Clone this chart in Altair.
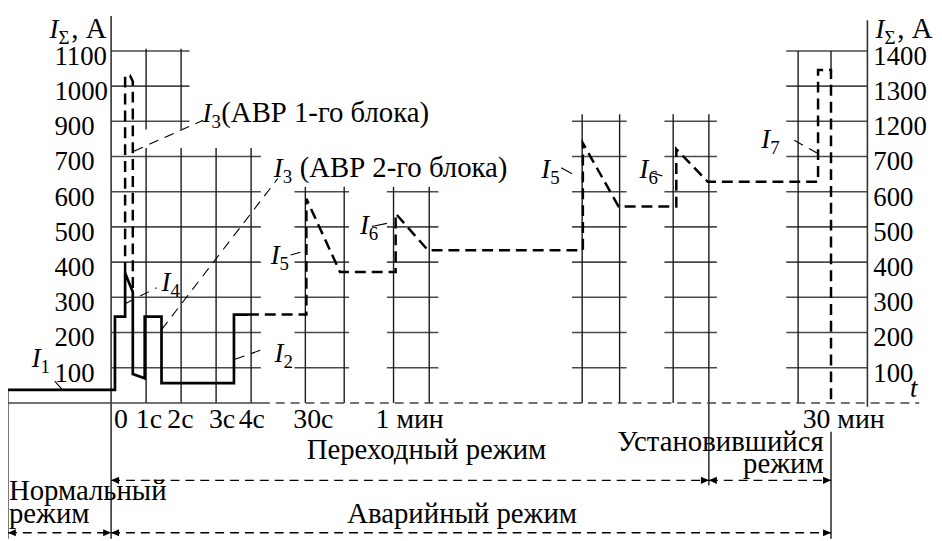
import altair as alt
import pandas as pd

FONT = "Liberation Serif"
FS_NUM = 27
FS_TXT = 29
FS_TIME = 28
SUB_FS = 19

# ---------------- data ----------------
# y is measured in grid levels of the current axis (level 1..10), x in grid cells from t = 0
levels = [1, 2, 3, 4, 5, 6, 7, 8, 9, 10]
left_labels = ["100", "200", "300", "400", "500", "600", "700", "900", "1000", "1100"]
right_labels = ["100", "200", "300", "400", "500", "600", "700", "1200", "1300", "1400"]

time_pos = [0.28, 1.08, 1.98, 3.17, 4.02, 5.78, 8.53, 20.93]
time_labels = ["0", "1с", "2с", "3с", "4с", "30с", "1 мин", "30 мин"]

# I1 -> I4 -> I2 (solid line)
solid_t = [-2.95, 0.11, 0.11, 0.40, 0.40, 0.62, 0.62, 0.96, 0.96, 1.44, 1.44, 3.51, 3.51, 3.91]
solid_i = [0.37, 0.37, 2.45, 2.45, 3.69, 3.15, 0.82, 0.70, 2.45, 2.45, 0.56, 0.56, 2.51, 2.51]

# I3 (АВР 1-го блока), dashed
abr1_t = [0.40, 0.40, 0.54, 0.62, 0.62]
abr1_i = [3.69, 9.30, 9.30, 9.13, 3.15]

# I3 (АВР 2-го блока), I5, I6, I5, I6, I7, dashed
abr2_t = [3.91, 5.58, 5.58, 6.54, 8.13, 8.13, 9.05, 13.48, 13.48, 14.50, 16.15, 16.15, 17.05, 20.20, 20.20, 20.57, 20.57]
abr2_i = [2.51, 2.51, 5.80, 3.72, 3.72, 5.38, 4.34, 4.34, 7.38, 5.58, 5.58, 7.21, 6.28, 6.28, 9.46, 9.46, 0.0]

# grid blocks: (x from, x to, levels with a horizontal line)
grid_groups = [
    (0.0, 2.24, [8, 9, 10]),
    (0.0, 4.28, [1, 2, 3, 4, 5, 6, 7]),
    (5.24, 6.80, [1, 2, 3, 4, 5, 6]),
    (7.88, 9.35, [1, 2, 3, 4, 5, 6]),
    (13.17, 14.73, [1, 2, 3, 4, 5, 6, 7, 8]),
    (15.81, 17.31, [1, 2, 3, 4, 5, 6, 7, 8]),
    (19.29, 21.61, [1, 2, 3, 4, 5, 6, 7, 8, 9, 10]),
]
grid_v_x = [1, 2, 1, 2, 3, 4, 5.55, 6.66, 8.07, 9.09, 13.46, 14.53, 16.06, 17.08, 19.63, 20.57]
grid_v_from = [7.77, 7.77, 0, 0, 0, 0, 0, 0, 0, 0, 0, 0, 0, -2.34, 0, 9.46]
grid_v_to = [10.06, 10.06, 7.24, 7.24, 7.24, 7.24, 6.14, 6.14, 6.14, 6.14, 8.2, 8.2, 8.2, 8.2, 10, 10]

axis_x = [0, 21.61, -2.95, 20.57]
axis_from = [-3.86, -0.11, -3.86, -3.86]
axis_to = [10.99, 10.87, 0.37, -0.82]

t_solid = [-2.95, 4.28]
t_dashed = [4.28, 23.09]

# leader lines: x1, y1, x2, y2
lead_dashed = [
    (0.40, 2.82, 1.30, 3.27),
    (3.54, 1.24, 4.42, 1.55),
    (0.65, 7.15, 2.63, 8.03),
    (1.44, 2.08, 4.76, 6.37),
    (19.52, 7.46, 20.17, 7.10),
]
lead_solid = [
    (-1.61, 0.62, -1.39, 0.37),
    (5.13, 4.20, 5.41, 4.28),
    (7.45, 5.01, 7.88, 5.10),
    (12.86, 6.68, 13.17, 6.51),
    (15.44, 6.54, 15.75, 6.45),
]

# current labels: x, y (baseline), subscript, rest of text
cur_x = [-2.27, 1.44, 4.67, 2.61, 4.65, 4.56, 7.11, 12.29, 15.10, 18.58, -1.76, 21.84]
cur_y = [1.01, 3.18, 1.15, 7.97, 6.42, 3.94, 4.79, 6.39, 6.39, 7.24, 10.37, 10.37]
cur_sub = ["1", "4", "2", "3", "3", "5", "6", "5", "6", "7", "Σ", "Σ"]
cur_rest = ["", "", "", "(АВР 1-го блока)", "(АВР 2-го блока)", "", "", "", "", "", ", А", ", А"]
cur_gap = [0, 0, 0, 0, 1, 0, 0, 0, 0, 0, 0, 0]

# mode arrows
arrow_from = [0, 17.08, -2.95, 0]
arrow_to = [17.08, 20.57, 0, 20.57]
arrow_y = [-2.20, -2.20, -3.69, -3.69]

region_text = ["Установившийся", "режим", "Переходный режим", "Нормальный", "режим", "Аварийный режим"]
region_x = [20.36, 20.36, 9.01, -2.92, -2.92, 10.03]
region_y = [-1.38, -2.00, -1.58, -2.76, -3.41, -3.41]
region_align = ["right", "right", "center", "left", "left", "center"]

# ---------------- scales ----------------
CELL_X, CELL_Y = 35.3, 35.5
W, H = 934, 533
X_MIN, X_MAX = -104 / CELL_X, 830 / CELL_X
Y_MIN, Y_MAX = -137 / CELL_Y, 396 / CELL_Y
XS = alt.Scale(domain=[X_MIN, X_MAX], nice=False, zero=False)
YS = alt.Scale(domain=[Y_MIN, Y_MAX], nice=False, zero=False)


def ex(f="x"):
    return alt.X(f"{f}:Q", scale=XS, axis=None)


def ey(f="y"):
    return alt.Y(f"{f}:Q", scale=YS, axis=None)


# ---------------- frames ----------------
hgrid = pd.DataFrame([{"x": a, "x2": b, "y": l} for a, b, ls in grid_groups for l in ls])
vgrid = pd.DataFrame({"x": grid_v_x, "y": grid_v_from, "y2": grid_v_to})
axes = pd.DataFrame({"x": axis_x, "y": axis_from, "y2": axis_to})

layers = []
layers.append(alt.Chart(hgrid).mark_rule(color="#4a4a4a", strokeWidth=1.6)
              .encode(x=ex(), x2="x2:Q", y=ey()))
layers.append(alt.Chart(vgrid).mark_rule(color="#1a1a1a", strokeWidth=1.4)
              .encode(x=ex(), y=ey(), y2="y2:Q"))
layers.append(alt.Chart(axes).mark_rule(color="#333", strokeWidth=1.6)
              .encode(x=ex(), y=ey(), y2="y2:Q"))

tax = pd.DataFrame({"x": [t_solid[0]], "x2": [t_solid[1]], "y": [0.0]})
layers.append(alt.Chart(tax).mark_rule(color="#444", strokeWidth=1.5)
              .encode(x=ex(), x2="x2:Q", y=ey()))
taxd = pd.DataFrame({"x": [t_dashed[0]], "x2": [t_dashed[1]], "y": [0.0]})
layers.append(alt.Chart(taxd).mark_rule(color="#444", strokeWidth=1.5, strokeDash=[9, 6])
              .encode(x=ex(), x2="x2:Q", y=ey()))


def path_df(ts, vs):
    return pd.DataFrame({"x": ts, "y": vs, "i": list(range(len(ts)))})


layers.append(alt.Chart(path_df(solid_t, solid_i))
              .mark_line(color="black", strokeWidth=2.7, strokeJoin="miter")
              .encode(x=ex(), y=ey(), order="i:Q"))
for ts, vs in [(abr1_t, abr1_i), (abr2_t, abr2_i)]:
    layers.append(alt.Chart(path_df(ts, vs))
                  .mark_line(color="black", strokeWidth=2.5, strokeDash=[11, 6], strokeJoin="miter")
                  .encode(x=ex(), y=ey(), order="i:Q"))

ld = pd.DataFrame(lead_dashed, columns=["x", "y", "x2", "y2"])
layers.append(alt.Chart(ld).mark_rule(color="black", strokeWidth=1.1, strokeDash=[10, 7])
              .encode(x=ex(), y=ey(), x2="x2:Q", y2="y2:Q"))
ls_ = pd.DataFrame(lead_solid, columns=["x", "y", "x2", "y2"])
layers.append(alt.Chart(ls_).mark_rule(color="black", strokeWidth=1.1)
              .encode(x=ex(), y=ey(), x2="x2:Q", y2="y2:Q"))

# arrows
arr = pd.DataFrame({"x": arrow_from, "x2": arrow_to, "y": arrow_y})
layers.append(alt.Chart(arr).mark_rule(color="black", strokeWidth=1.3, strokeDash=[9, 6])
              .encode(x=ex(), x2="x2:Q", y=ey()))
heads_r = pd.DataFrame({"x": arrow_to, "y": arrow_y})
heads_l = pd.DataFrame({"x": arrow_from, "y": arrow_y})
layers.append(alt.Chart(heads_r).mark_point(shape="M0,0L-1,-0.45L-1,0.45Z", size=256, filled=True,
                                            color="black", opacity=1)
              .encode(x=ex(), y=ey()))
layers.append(alt.Chart(heads_l).mark_point(shape="M0,0L1,-0.45L1,0.45Z", size=256, filled=True,
                                            color="black", opacity=1)
              .encode(x=ex(), y=ey()))


def tx(size, **kw):
    return dict(font=FONT, fontSize=size, color="black", baseline="alphabetic", **kw)


# axis tick labels
lt = pd.DataFrame({"y": levels, "t": left_labels, "x": [-1.62] * 10})
layers.append(alt.Chart(lt).mark_text(**tx(FS_NUM, align="left", dy=14))
              .encode(x=ex(), y=ey(), text="t:N"))
rt = pd.DataFrame({"y": levels, "t": right_labels, "x": [21.78] * 10})
layers.append(alt.Chart(rt).mark_text(**tx(FS_NUM, align="left", dy=14))
              .encode(x=ex(), y=ey(), text="t:N"))
tt = pd.DataFrame({"x": time_pos, "t": time_labels, "y": [-0.72] * len(time_pos)})
layers.append(alt.Chart(tt).mark_text(**tx(FS_TIME, align="center"))
              .encode(x=ex(), y=ey(), text="t:N"))
layers.append(alt.Chart(pd.DataFrame({"x": [22.83], "y": [0.17], "t": ["t"]}))
              .mark_text(**tx(FS_NUM, align="left", fontStyle="italic"))
              .encode(x=ex(), y=ey(), text="t:N"))

# current labels
cur = pd.DataFrame({"x": cur_x, "y": cur_y, "sub": cur_sub, "rest": cur_rest, "gap": cur_gap})
cur["I"] = "I"
cur["restx"] = cur["x"] + (cur["sub"].map(lambda s: 22 if s == "Σ" else 19) + cur["gap"] * 7) / CELL_X
layers.append(alt.Chart(cur).mark_text(**tx(FS_NUM, align="left", fontStyle="italic"))
              .encode(x=ex(), y=ey(), text="I:N"))
layers.append(alt.Chart(cur).mark_text(**tx(SUB_FS, align="left", dx=9, dy=6))
              .encode(x=ex(), y=ey(), text="sub:N"))
layers.append(alt.Chart(cur[cur["rest"] != ""]).mark_text(**tx(FS_TXT, align="left"))
              .encode(x=ex("restx"), y=ey(), text="rest:N"))

# region labels
reg = pd.DataFrame({"x": region_x, "y": region_y, "t": region_text, "a": region_align})
for a in ["left", "center", "right"]:
    layers.append(alt.Chart(reg[reg["a"] == a]).mark_text(**tx(FS_TXT, align=a))
                  .encode(x=ex(), y=ey(), text="t:N"))

chart = alt.layer(*layers).properties(
    width=W, height=H, padding=0, autosize=alt.AutoSizeParams(type="none"), background="white"
).configure_view(stroke=None)

chart.save("out.html", embed_options={"renderer": "svg", "actions": False})
